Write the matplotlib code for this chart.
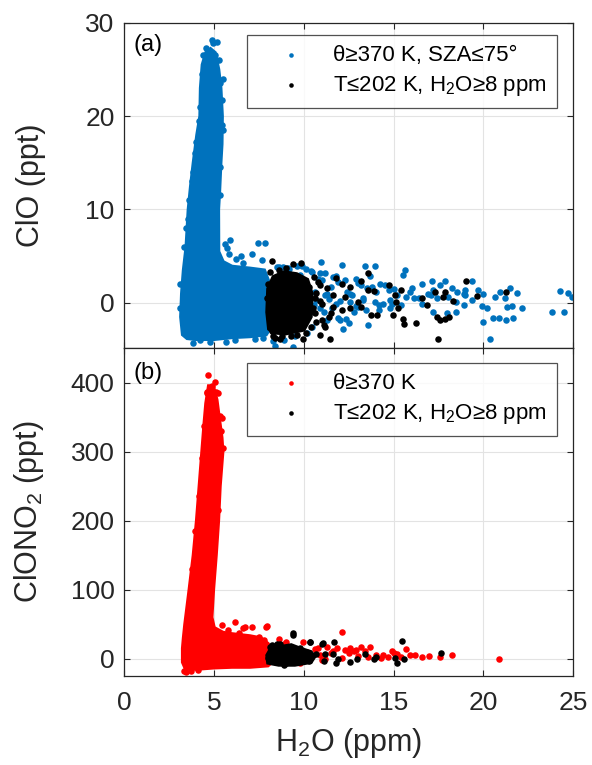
import numpy as np
import matplotlib
matplotlib.use("Agg")
import matplotlib.pyplot as plt

# Fuentes tipo Arial y subíndices en texto normal
plt.rcParams["font.family"] = ["Liberation Sans", "DejaVu Sans"]
plt.rcParams["mathtext.fontset"] = "custom"
plt.rcParams["mathtext.rm"] = "Liberation Sans"
plt.rcParams["mathtext.default"] = "regular"

azul = "#0072BD"
rojo = "#FF0000"
gris = "#262626"

# -------------------------------------------------------------------------------------------------
# Panel (a): ClO frente a H2O
# Contorno de la nube densa (theta >= 370 K)
clo_nube_x = [3.25, 3.15, 3.2, 3.3, 3.45, 3.57, 3.7, 3.85, 4.05, 4.22, 4.25, 4.35, 4.55, 4.8,
              5.05, 5.25, 5.37, 5.45, 5.43, 5.37, 5.3, 5.24, 5.25, 5.5, 6.0, 7.0, 7.8, 8.1,
              8.15, 8.1, 7.9, 7.0, 6.0, 5.0, 4.0, 3.5]
clo_nube_y = [-3.4, -1.5, 1.0, 3.5, 6.0, 10.0, 12.5, 15.0, 18.0, 20.0, 23.0, 25.5, 26.8, 27.2,
              26.8, 25.0, 23.0, 20.0, 17.0, 15.0, 12.0, 10.0, 5.5, 4.4, 3.9, 3.7, 3.5, 2.0,
              -1.0, -2.8, -3.4, -3.6, -3.7, -3.9, -3.9, -3.8]

# Puntos sueltos (theta >= 370 K, SZA <= 75)
clo_x = [4.87, 4.96, 4.41, 5.05, 5.33, 5.43, 4.3, 4.2, 5.5, 3.95, 3.75, 3.55, 3.35, 5.9, 5.7,
         5.6, 5.85, 6.2, 6.6, 4.22, 4.77, 5.67, 6.17, 3.8, 7.3, 7.7, 3.1, 3.12, 7.47, 7.84,
         7.66, 8.4, 9.42, 10.96, 12.12, 13.42, 13.97, 15.61, 15.55, 16.58, 17.13, 17.88, 17.6,
         18.25, 18.53, 18.99, 19.36, 19.73, 20.01, 19.92, 20.2, 20.0, 20.38, 20.53, 20.9, 21.28,
         21.68, 21.31, 21.62, 22.15, 20.66, 20.94, 21.2, 21.5, 21.87, 23.82, 24.47, 24.29, 24.71,
         24.95, 17.19, 17.97, 18.5, 18.9, 17.2, 18.5, 18.05, 17.1, 16.6, 16.15, 15.9, 15.7,
         15.18, 14.72, 14.25, 14.0, 13.5, 13.2, 13.32, 12.58, 12.4, 11.93, 11.5, 11.19, 10.9,
         10.45, 10.13, 9.79, 8.86, 8.7, 11.56, 11.1, 12.02, 12.2, 11.3, 10.45, 9.44, 14.8,
         14.8, 15.4, 14.2, 13.95, 13.0, 10.7, 10.55, 11.2, 11.8, 12.35, 12.8, 13.45, 14.2,
         14.9, 16.4, 17.4, 18.9, 19.35, 8.5, 9.2, 9.9, 10.4, 10.8, 11.6, 12.9, 13.7, 11.9,
         12.6, 10.2, 9.5, 8.3, 8.9, 7.1, 6.5,
         4.55, 4.45, 4.15, 4.0, 3.8, 3.62, 3.45, 5.15, 5.28, 5.5, 5.42, 5.35, 5.32, 11.0, 11.8,
         12.3, 13.0, 13.8, 14.5, 10.6, 11.3, 12.7, 13.3, 12.0, 11.4, 10.3, 10.9, 12.9, 14.4,
         15.0, 16.0, 16.9, 19.0, 12.5, 13.6, 9.6, 9.1, 8.6, 10.1]
clo_y = [28.1, 27.8, 26.5, 26.5, 23.5, 21.7, 24.5, 21.0, 18.5, 16.0, 13.0, 9.0, 6.0, 6.7, 5.9,
         6.3, 5.2, 4.7, 4.3, -4.0, -4.2, -4.2, -4.0, -4.3, -3.9, -3.8, -0.5, 2.0, 6.43, 6.43,
         4.57, -4.64, -4.7, 4.4, 4.1, 4.0, 4.0, 3.57, 2.97, 2.0, 2.32, 2.32, 1.9, 1.54, 1.18,
         1.43, 2.32, 1.36, 1.0, -0.35, -0.6, -2.03, -3.92, -1.57, -1.6, -1.85, -1.6, -0.43,
         -0.35, -0.6, 0.65, 1.18, 0.5, 1.54, 1.1, -0.96, -0.96, 1.29, 1.1, 0.65, -0.96, -1.1,
         -0.96, -0.25, 1.36, 0.1, 0.65, 0.8, -0.07, 0.5, 1.18, 0.65, 0.8, 1.36, 2.07, 1.18,
         1.54, 1.9, 0.29, 0.1, 1.18, 2.25, 1.7, 3.15, 3.15, 3.3, 2.0, 2.97, 3.86, 2.4, -0.6,
         -0.96, -1.85, -2.75, -1.85, -2.57, -2.2, 0.3, -0.6, -0.25, -0.25, 0.1, -0.43, 0.3,
         -0.25, 0.8, -0.07, -1.7, -0.96, -0.8, -0.8, -0.07, 0.5, 0.5, 1.0, 0.3, 3.8, 3.6,
         3.9, 3.4, 2.6, 2.8, 2.6, 2.9, -1.6, 1.0, -3.2, -3.6, -4.1, -4.0, 5.2, 5.0,
         27.3, 25.2, 19.5, 17.2, 14.0, 11.0, 8.0, 27.9, 26.0, 24.0, 19.0, 14.5, 11.5, 2.4, 2.9,
         2.5, 2.1, 1.7, 1.9, 1.2, 0.9, 0.8, 0.5, 0.2, 0.4, -0.1, -0.5, -0.3, -0.1, 1.5, 1.6,
         0.9, 0.8, -2.2, -2.4, 3.9, 3.7, 3.8, 3.6]

# Nube densa fría (T <= 202 K, H2O >= 8 ppm)
clo_frio_nube_x = [8.05, 7.95, 8.0, 8.3, 8.9, 9.6, 10.2, 10.45, 10.4, 10.0, 9.0, 8.3]
clo_frio_nube_y = [-2.8, -1.0, 1.5, 2.8, 3.3, 3.1, 2.5, 1.0, -1.5, -2.9, -3.3, -3.2]

clo_frio_x = [8.21, 9.42, 9.85, 13.55, 14.72, 15.42, 15.06, 15.15, 15.24, 14.96, 15.55, 15.6,
              16.24, 16.6, 16.86, 17.32, 17.87, 17.78, 18.3, 17.4, 17.6, 17.88, 18.1, 17.45,
              19.05, 19.64, 21.28, 13.6, 13.9, 13.2, 12.6, 12.1, 13.0, 13.2, 13.75, 14.1, 12.6,
              12.1, 11.5, 11.0, 10.9, 11.47, 11.0, 10.6, 10.4, 9.98, 8.7, 8.3, 10.8, 11.3, 10.3,
              10.6, 11.65, 8.0, 8.05, 8.1, 10.5, 10.7, 11.2, 9.0, 8.6, 10.9, 11.4, 8.4, 9.6,
              8.1, 7.95, 8.2, 10.55, 10.45, 10.7, 9.3, 8.8, 10.1, 11.1, 10.9, 11.6, 12.3, 11.8]
clo_frio_y = [4.47, 4.2, 4.3, 3.15, 1.9, 1.36, 0.8, 0.1, -0.6, -1.32, -1.68, -2.28, -2.2, 0.5,
              -0.25, 1.18, 1.18, 0.6, 0.2, -1.5, -1.85, -1.7, -1.5, -3.89, 2.36, 0.72, 1.18,
              1.36, 1.3, 2.32, 1.7, 1.98, 0.1, -0.43, -1.25, -1.25, -0.6, -0.8, -1.1, -0.07,
              -3.46, -3.85, -1.85, -1.1, -2.57, -3.85, -3.85, -3.5, 2.25, 1.54, 1.7, 0.5, 0.8,
              2.0, -0.5, -2.0, -0.5, -2.0, -2.6, 3.7, 3.5, 0.2, -1.5, -3.8, -3.4,
              3.3, 0.5, -3.0, 2.8, -0.9, 1.1, -3.6, -3.6, -3.2, -2.4, 1.9, -0.4, 0.6, 2.7]

# -------------------------------------------------------------------------------------------------
# Panel (b): ClONO2 frente a H2O
clono2_nube_x = [3.4, 3.25, 3.25, 3.3, 3.38, 3.5, 3.62, 3.85, 4.03, 4.18, 4.33, 4.45, 4.55,
                 4.7, 4.95, 5.15, 5.3, 5.43, 5.48, 5.33, 5.24, 5.11, 4.96, 4.87, 5.0, 5.5,
                 6.0, 7.0, 7.6, 8.0, 8.3, 8.3, 8.0, 7.0, 6.0, 5.0, 4.0]
clono2_nube_y = [-14, -5, 15, 30, 50, 75, 100, 150, 200, 250, 300, 340, 370, 395, 395, 375,
                 345, 320, 300, 250, 200, 150, 100, 60, 45, 38, 36, 33, 30, 22, 10, -3, -10,
                 -12, -12, -13, -15]

clono2_x = [4.68, 5.06, 4.9, 5.1, 4.6, 4.6, 5.33, 4.68, 4.6, 4.45, 4.59, 5.2, 5.43, 5.52,
            6.17, 5.43, 7.1, 7.94, 6.7, 6.4, 7.9, 12.12, 20.9, 18.25, 17.6, 16.58, 15.9,
            15.7, 15.2, 14.7, 14.3, 13.7, 13.2, 12.6, 12.8, 12.3, 11.85, 11.6, 11.3, 10.8,
            10.9, 10.4, 9.98, 9.8, 9.42, 8.87, 12.1, 13.4, 13.55, 14.9, 7.5, 7.78, 8.3,
            3.3, 3.45, 3.7, 4.1, 3.6, 5.8, 6.6, 11.0, 14.0, 15.4, 16.2, 17.0,
            4.3, 4.15, 3.95, 3.75, 5.4, 5.3, 5.2, 10.6, 11.5, 12.5, 13.0, 10.2, 9.5, 11.2,
            12.9, 14.4, 15.0, 9.0, 8.6]
clono2_y = [411, 401, 395, 386, 385, 363, 351, 341, 336, 337, 387, 385, 349, 305, 53.6,
            48.8, 46.4, 47.4, 46, 37, 46.4, 39, -0.4, 5.4, 3, 2, 5.4, 13.6, 7.3, 3, 1.7,
            17.4, 17.4, 16, 11, 13, 16, 11, 17.4, 16, 5.4, 5.4, 24.6, -6, 5.4, 22, 1.7, 11,
            3, 11, 32, 27, 17, -18, -19, -17, -16, 60, 42, 44, -2, 6, 2, 6, 4,
            290, 235, 185, 130, 330, 280, 215, 14, 8, 9, 4, 10, 14, 0, 12, 6, 8, 24, 28]

clono2_frio_nube_x = [8.0, 7.95, 8.1, 8.6, 9.3, 9.8, 10.4, 10.6, 10.4, 9.5, 8.6]
clono2_frio_nube_y = [-6, 5, 12, 17, 20, 15, 10, 3, -5, -9, -9]

clono2_frio_x = [9.42, 10.35, 11.09, 11.69, 15.46, 17.64, 15.1, 15.2, 15.6, 14.0, 13.9, 13.4,
                 12.95, 12.6, 11.9, 11.8, 11.1, 11.2, 10.7, 10.3, 11.65, 10.1, 9.7, 8.9, 8.45,
                 8.0, 8.1, 8.5, 8.9, 9.25, 8.87, 8.7, 8.4, 9.42, 8.2, 8.65, 9.3, 9.1, 8.2, 8.65,
                 9.0, 10.35, 10.3, 9.8, 9.6, 11.0]
clono2_frio_y = [34.3, 24.6, 23.2, 23.6, 26.1, 8.7, 1.7, -5.8, -0.6, 3, -0.4, 6.5, -0.4, -4.3,
                 -0.4, -5.8, -3, 7.3, 7.3, -3, 7.3, 5.4, 1.7, -9, -4.3, 1.7, 17, 22, 16, 3, 7,
                 -1.7, 5.4, 36.8, 20, 22, 16, 1.7, 1.7, -3, -5.8, 24.6, 0, 16, 11, 22]

# -------------------------------------------------------------------------------------------------
fig = plt.figure(figsize=(5.92, 7.65), dpi=100)
ax1 = fig.add_axes([0.21, 0.5455, 0.758, 0.4248])
ax2 = fig.add_axes([0.21, 0.1163, 0.758, 0.4288])

tam = 22  # tamaño de los puntos


def estilo(ax):
    ax.grid(True, color="#e3e3e3", linewidth=0.8, zorder=0)
    ax.set_axisbelow(True)
    ax.tick_params(direction="in", length=4, width=0.8, colors=gris, labelsize=19,
                   top=True, right=True)
    ax.tick_params(axis="y", pad=7)
    ax.tick_params(axis="x", pad=11)
    for s in ax.spines.values():
        s.set_color(gris)
        s.set_linewidth(0.9)
    ax.set_xlim(0, 25)
    ax.set_xticks([0, 5, 10, 15, 20, 25])
    ax.yaxis.set_label_coords(-0.175, 0.5)


# Panel (a)
ax1.fill(clo_nube_x, clo_nube_y, color=azul, lw=2.5, ec=azul, zorder=2)
ax1.scatter(clo_x, clo_y, s=tam, color=azul, lw=0, zorder=2,
            label="θ≥370 K, SZA≤75°")
ax1.fill(clo_frio_nube_x, clo_frio_nube_y, color="k", lw=2.5, ec="k", zorder=3)
ax1.scatter(clo_frio_x, clo_frio_y, s=tam, color="k", lw=0, zorder=3,
            label="T≤202 K, H$_2$O≥8 ppm")
estilo(ax1)
ax1.set_ylim(-4.8, 30)
ax1.set_yticks([0, 10, 20, 30])
ax1.tick_params(labelbottom=False)
ax1.set_ylabel("ClO (ppt)", fontsize=22, color=gris)
ax1.text(0.02, 0.93, "(a)", transform=ax1.transAxes, fontsize=17, va="center")

# Panel (b)
ax2.fill(clono2_nube_x, clono2_nube_y, color=rojo, lw=2.5, ec=rojo, zorder=2)
ax2.scatter(clono2_x, clono2_y, s=tam, color=rojo, lw=0, zorder=2, label="θ≥370 K")
ax2.fill(clono2_frio_nube_x, clono2_frio_nube_y, color="k", lw=2.5, ec="k", zorder=3)
ax2.scatter(clono2_frio_x, clono2_frio_y, s=tam, color="k", lw=0, zorder=3,
            label="T≤202 K, H$_2$O≥8 ppm")
estilo(ax2)
ax2.set_ylim(-25, 450)
ax2.set_yticks([0, 100, 200, 300, 400])
ax2.set_ylabel("ClONO$_2$ (ppt)", fontsize=22, color=gris)
ax2.set_xlabel("H$_2$O (ppm)", fontsize=22, color=gris, labelpad=8)
ax2.text(0.02, 0.923, "(b)", transform=ax2.transAxes, fontsize=17, va="center")

for ax, yy in [(ax1, 0.962), (ax2, 0.954)]:
    ley = ax.legend(loc="upper right", bbox_to_anchor=(0.964, yy), fontsize=16,
                    frameon=True, fancybox=False, edgecolor=gris, markerscale=0.7,
                    handlelength=3.1, handletextpad=0.35, borderpad=0.45, labelspacing=0.35,
                    borderaxespad=0, scatterpoints=1)
    ley.get_frame().set_linewidth(0.9)
    ley.set_zorder(5)

fig.savefig("out.png", dpi=100)
